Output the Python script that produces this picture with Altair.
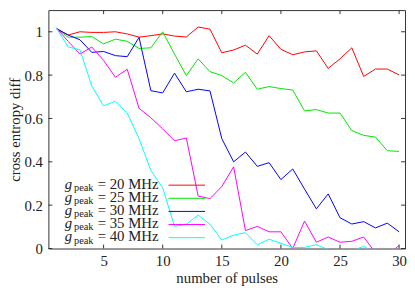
import altair as alt
import pandas as pd

pulses = list(range(1, 31))
g20 = [1.015, 0.985, 1.0, 0.997, 0.997, 1.0, 0.99, 0.975, 0.982, 0.99,
       0.98, 0.976, 1.022, 1.012, 0.903, 0.916, 0.938, 0.897, 0.982, 0.919,
       0.894, 0.907, 0.912, 0.831, 0.875, 0.926, 0.794, 0.828, 0.828, 0.801]
g25 = [1.015, 0.975, 0.975, 0.978, 0.944, 0.966, 0.956, 0.923, 0.926, 1.0,
       0.897, 0.798, 0.875, 0.816, 0.798, 0.764, 0.813, 0.735, 0.747, 0.738,
       0.731, 0.635, 0.641, 0.625, 0.625, 0.544, 0.522, 0.514, 0.451, 0.448]
g30 = [1.015, 0.985, 0.963, 0.905, 0.909, 0.89, 0.885, 0.974, 0.728, 0.718,
       0.809, 0.723, 0.735, 0.727, 0.507, 0.40, 0.445, 0.379, 0.396, 0.318,
       0.367, 0.274, 0.183, 0.252, 0.142, 0.113, 0.124, 0.095, 0.117, 0.077]
g35 = [1.018, 0.956, 0.897, 0.93, 0.868, 0.79, 0.827, 0.647, 0.603, 0.552,
       0.497, 0.51, 0.242, 0.23, 0.286, 0.377, 0.083, 0.102, 0.077, 0.077,
       0.0, 0.127, 0.029, 0.053, 0.029, 0.033, 0.053, -0.02, -0.03, 0.014]
g40 = [1.018, 0.93, 0.917, 0.75, 0.658, 0.68, 0.625, 0.507, 0.36, 0.28,
       0.102, 0.112, 0.154, 0.112, 0.039, 0.062, 0.073, 0.017, 0.043, 0.024,
       0.005, 0.005, 0.018, -0.005, -0.02, -0.01, 0.01, -0.02, -0.03, -0.02]

labels = ["20", "25", "30", "35", "40"]
colors = ["#ff0000", "#00e600", "#0000ff", "#ff00ff", "#00ffff"]
x_ticks = [5, 10, 15, 20, 25, 30]
y_ticks = [0, 0.2, 0.4, 0.6, 0.8, 1]

rows = []
for lab, vals in zip(labels, [g20, g25, g30, g35, g40]):
    for p, v in zip(pulses, vals):
        rows.append({"series": lab, "pulses": p, "value": v})
df = pd.DataFrame(rows)

leg = pd.DataFrame({
    "series": labels,
    "txt": [f"= {l} MHz" for l in labels],
    "g": ["g"] * len(labels),
    "sub": ["peak"] * len(labels),
})

W, H = 362, 242
FONT = "Liberation Serif, DejaVu Serif, serif"
FRAME = "#333333"
TXT = "#222222"
FS = 15

xscale = alt.Scale(domain=[0.33, 30.5], nice=False, zero=False)
yscale = alt.Scale(domain=[0, 1.1], nice=False, zero=False)
cscale = alt.Scale(domain=labels, range=colors)

lines = alt.Chart(df).mark_line(strokeWidth=1, clip=True).encode(
    x=alt.X("pulses:Q", scale=xscale,
            axis=alt.Axis(values=x_ticks, title="number of pulses",
                          labelPadding=5, titlePadding=3, labelFlush=False)),
    y=alt.Y("value:Q", scale=yscale,
            axis=alt.Axis(values=y_ticks, format="~g", title="cross entropy diff",
                          labelPadding=6, titlePadding=2)),
    color=alt.Color("series:N", scale=cscale, legend=None),
)

xt = pd.DataFrame({"t": x_ticks})
yt = pd.DataFrame({"t": y_ticks})
tick_style = dict(color=FRAME, strokeWidth=1)
xtick_b = alt.Chart(xt).mark_rule(**tick_style).encode(
    x=alt.X("t:Q", scale=xscale, axis=None), y=alt.value(H), y2=alt.value(H - 4))
xtick_t = alt.Chart(xt).mark_rule(**tick_style).encode(
    x=alt.X("t:Q", scale=xscale, axis=None), y=alt.value(0), y2=alt.value(4))
ytick_l = alt.Chart(yt).mark_rule(**tick_style).encode(
    y=alt.Y("t:Q", scale=yscale, axis=None), x=alt.value(0), x2=alt.value(4))
ytick_r = alt.Chart(yt).mark_rule(**tick_style).encode(
    y=alt.Y("t:Q", scale=yscale, axis=None), x=alt.value(W), x2=alt.value(W - 4))

leg_y = alt.Y("series:N", axis=None,
              scale=alt.Scale(type="point", domain=labels, range=[177.7, 231], padding=0))

leg_g = alt.Chart(leg).mark_text(font=FONT, fontSize=FS, fontStyle="italic",
                                 align="left", baseline="alphabetic", dy=3.5, color=TXT).encode(
    x=alt.value(16.5), y=leg_y, text="g:N")
leg_sub = alt.Chart(leg).mark_text(font=FONT, fontSize=10.5, align="left",
                                   baseline="alphabetic", dy=6, color=TXT).encode(
    x=alt.value(26), y=leg_y, text="sub:N")
leg_txt = alt.Chart(leg).mark_text(font=FONT, fontSize=FS, align="left",
                                   baseline="alphabetic", dy=3.5, color=TXT).encode(
    x=alt.value(50), y=leg_y, text="txt:N")
leg_line = alt.Chart(leg).mark_rule(strokeWidth=1).encode(
    x=alt.value(122), x2=alt.value(159), y=leg_y,
    color=alt.Color("series:N", scale=cscale, legend=None))

chart = alt.layer(
    lines, xtick_b, xtick_t, ytick_l, ytick_r, leg_g, leg_sub, leg_txt, leg_line
).resolve_scale(x="independent", y="independent").properties(
    width=W, height=H,
    autosize=alt.AutoSizeParams(type="none"),
    padding={"left": 41, "top": 0, "right": 2, "bottom": 41},
    background="white",
).configure_view(
    stroke=FRAME, strokeWidth=1
).configure_axis(
    domain=False, ticks=False, grid=False,
    labelFont=FONT, labelFontSize=FS, labelColor=TXT,
    titleFont=FONT, titleFontSize=FS, titleFontWeight="normal", titleColor=TXT,
)

chart.save("out.html", embed_options={"renderer": "svg", "actions": False})
